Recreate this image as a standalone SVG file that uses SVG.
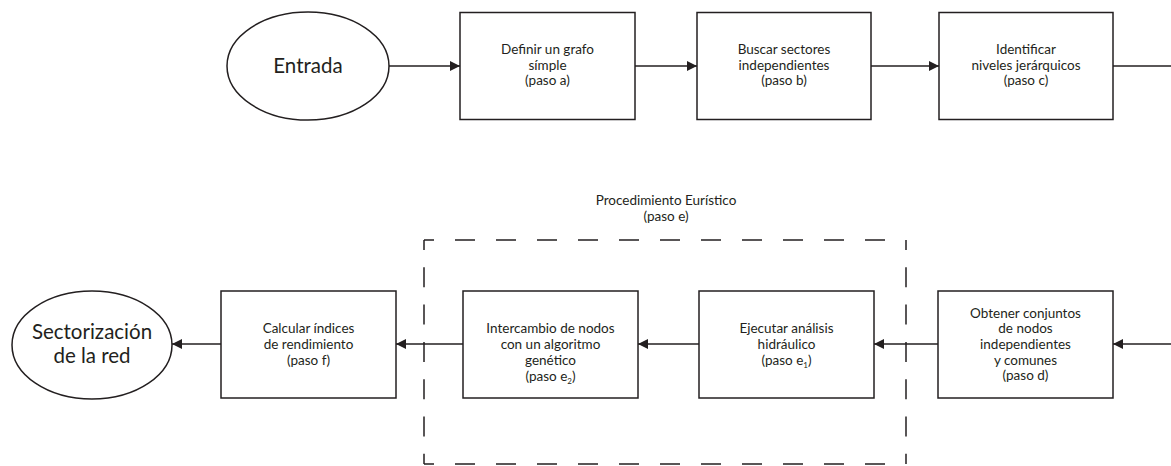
<svg xmlns="http://www.w3.org/2000/svg" width="1171" height="466" viewBox="0 0 1171 466">
  <style>
    .box { fill: #ffffff; stroke: #231f20; stroke-width: 1.5; }
    .term { fill: #ffffff; stroke: #231f20; stroke-width: 1.5; }
    .lbl { font-family: Lato, "Liberation Sans", sans-serif; font-size: 13.5px; fill: #231f20; text-anchor: middle; }
    .big { font-family: Lato, "Liberation Sans", sans-serif; font-size: 20.5px; fill: #231f20; text-anchor: middle; }
    .sub { font-size: 8px; }
    .wire { fill: none; stroke: #231f20; stroke-width: 1.5; }
    .arr { marker-end: url(#head); }
    .dash { fill: none; stroke: #231f20; stroke-width: 1.5; }
  </style>
  <defs>
    <marker id="head" viewBox="0 0 10 10" refX="10" refY="5" markerWidth="10" markerHeight="10" markerUnits="userSpaceOnUse" orient="auto">
      <path d="M0,0 L10,5 L0,10 Z" fill="#231f20"/>
    </marker>
  </defs>

  <rect width="1171" height="466" fill="#ffffff"/>

  <!-- dashed frame around the heuristic procedure -->
  <g id="heuristic-frame">
    <path class="dash" d="M424,240 H906" stroke-dasharray="20 21" stroke-dashoffset="10"/>
    <path class="dash" d="M424,464 H906" stroke-dasharray="20 21" stroke-dashoffset="10"/>
    <path class="dash" d="M424,240 V464" stroke-dasharray="20 17.3" stroke-dashoffset="10"/>
    <path class="dash" d="M906,240 V464" stroke-dasharray="20 17.3" stroke-dashoffset="10"/>
    <text class="lbl" x="666" y="205">Procedimiento Eurístico</text>
    <text class="lbl" x="666" y="221">(paso e)</text>
  </g>

  <!-- connectors -->
  <g id="connectors">
    <path class="wire arr" d="M389,66 H460"/>
    <path class="wire arr" d="M635,66 H697"/>
    <path class="wire arr" d="M871,66 H939"/>
    <path class="wire" d="M1113,66 H1171"/>
    <path class="wire arr" d="M1171,344 H1113"/>
    <path class="wire arr" d="M938,344 H874"/>
    <path class="wire arr" d="M699,344 H638"/>
    <path class="wire arr" d="M463,344 H396"/>
    <path class="wire arr" d="M221,344 H172"/>
  </g>

  <!-- top row -->
  <g id="entrada">
    <ellipse class="term" cx="308" cy="66" rx="81" ry="54"/>
    <text class="big" x="308" y="73">Entrada</text>
  </g>
  <g id="paso-a">
    <rect class="box" x="460" y="12.5" width="175" height="107"/>
    <text class="lbl" x="547.5" y="54">Definir un grafo</text>
    <text class="lbl" x="547.5" y="69.5">símple</text>
    <text class="lbl" x="547.5" y="85">(paso a)</text>
  </g>
  <g id="paso-b">
    <rect class="box" x="697" y="12.5" width="174" height="107"/>
    <text class="lbl" x="784" y="54">Buscar sectores</text>
    <text class="lbl" x="784" y="69.5">independientes</text>
    <text class="lbl" x="784" y="85">(paso b)</text>
  </g>
  <g id="paso-c">
    <rect class="box" x="939" y="12.5" width="174" height="107"/>
    <text class="lbl" x="1026" y="54">Identificar</text>
    <text class="lbl" x="1026" y="69.5">niveles jerárquicos</text>
    <text class="lbl" x="1026" y="85">(paso c)</text>
  </g>

  <!-- bottom row -->
  <g id="paso-d">
    <rect class="box" x="938" y="291" width="175" height="107"/>
    <text class="lbl" x="1025.5" y="317.5">Obtener conjuntos</text>
    <text class="lbl" x="1025.5" y="333">de nodos</text>
    <text class="lbl" x="1025.5" y="348.5">independientes</text>
    <text class="lbl" x="1025.5" y="364.5">y comunes</text>
    <text class="lbl" x="1025.5" y="380">(paso d)</text>
  </g>
  <g id="paso-e1">
    <rect class="box" x="699" y="291" width="175" height="107"/>
    <text class="lbl" x="786.5" y="333">Ejecutar análisis</text>
    <text class="lbl" x="786.5" y="348.5">hidráulico</text>
    <text class="lbl" x="786.5" y="364.5">(paso e<tspan class="sub" dy="3">1</tspan><tspan dy="-3">)</tspan></text>
  </g>
  <g id="paso-e2">
    <rect class="box" x="463" y="291" width="175" height="107"/>
    <text class="lbl" x="550.5" y="333">Intercambio de nodos</text>
    <text class="lbl" x="550.5" y="348.5">con un algoritmo</text>
    <text class="lbl" x="550.5" y="364.5">genético</text>
    <text class="lbl" x="550.5" y="380.5">(paso e<tspan class="sub" dy="3">2</tspan><tspan dy="-3">)</tspan></text>
  </g>
  <g id="paso-f">
    <rect class="box" x="221" y="291" width="175" height="107"/>
    <text class="lbl" x="308.5" y="333">Calcular índices</text>
    <text class="lbl" x="308.5" y="348.5">de rendimiento</text>
    <text class="lbl" x="308.5" y="364.5">(paso f)</text>
  </g>
  <g id="sectorizacion">
    <ellipse class="term" cx="92" cy="345" rx="80" ry="54"/>
    <text class="big" x="92" y="339">Sectorización</text>
    <text class="big" x="92" y="363">de la red</text>
  </g>
</svg>
